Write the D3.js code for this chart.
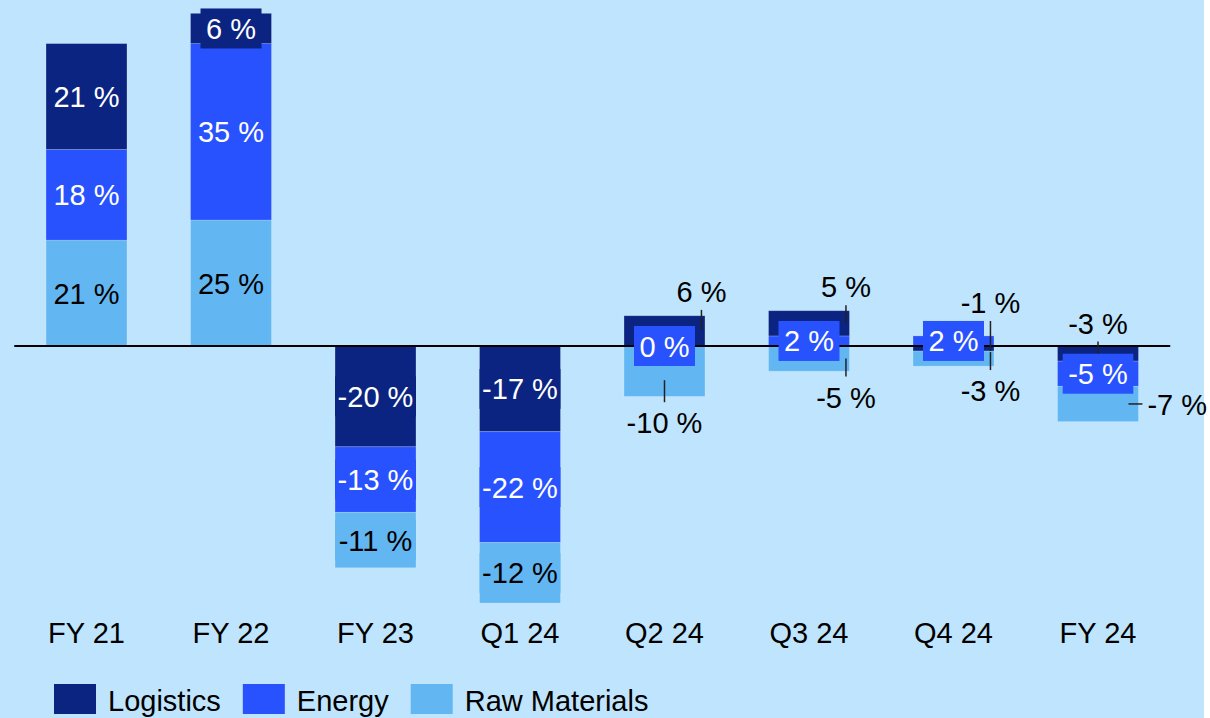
<!DOCTYPE html>
<html>
<head>
<meta charset="utf-8">
<script src="https://cdn.jsdelivr.net/npm/d3@7"></script>
<style>
  html, body { margin: 0; padding: 0; background: #ffffff; }
  svg { display: block; }
  text { font-family: "Liberation Sans", Arial, sans-serif; }
</style>
</head>
<body>
<svg id="chart" width="1210" height="718"></svg>
<script>
// ---- data ----
const categories = ["FY 21", "FY 22", "FY 23", "Q1 24", "Q2 24", "Q3 24", "Q4 24", "FY 24"];
const logistics    = [21, 6, -20, -17, 6, 5, -1, -3];
const energy       = [18, 35, -13, -22, 0, 2, 2, -5];
const rawMaterials = [21, 25, -11, -12, -10, -5, -3, -7];
const seriesNames  = ["Logistics", "Energy", "Raw Materials"];
const seriesValues = [logistics, energy, rawMaterials];

// ---- styles ----
const colors = { "Logistics": "#0c2481", "Energy": "#2952ff", "Raw Materials": "#62b7f3" };
const textColors = { "Logistics": "#ffffff", "Energy": "#ffffff", "Raw Materials": "#000000" };
const fontSize = 29;

// labels placed outside their segments (layout only)
const outsideLabels = {
  "Q2 24|Logistics":     { dir: "up",   at: "edge",   from: -1,  len: 20 },
  "Q2 24|Raw Materials": { dir: "down", at: "center", from: 9,   len: 22 },
  "Q3 24|Logistics":     { dir: "up",   at: "edge",   from: 0,   len: 18 },
  "Q3 24|Raw Materials": { dir: "down", at: "edge",   from: 0,   len: 18 },
  "Q4 24|Logistics":     { dir: "up",   at: "edge",   from: 2.5, len: 30 },
  "Q4 24|Raw Materials": { dir: "down", at: "edge",   from: -6.5, len: 18 },
  "FY 24|Logistics":     { dir: "up",   at: "center", from: 0,   len: 12 },
  "FY 24|Raw Materials": { dir: "right" }
};

const svg = d3.select("#chart");
svg.append("rect").attr("x", 0).attr("y", 0).attr("width", 1204).attr("height", 718).attr("fill", "#bfe4fd");

const zeroY = 346, pxPerUnit = 5.04;
const y = d3.scaleLinear().domain([-55, 66]).range([zeroY + 55 * pxPerUnit, zeroY - 66 * pxPerUnit]);
const x = d3.scaleBand().domain(categories).range([14.25, 1170.25]).paddingInner(0.44).paddingOuter(0.22);

// ---- diverging stack: positives Raw->Energy->Logistics upward, negatives Logistics->Energy->Raw downward ----
const posOrder = ["Raw Materials", "Energy", "Logistics"];
const negOrder = ["Logistics", "Energy", "Raw Materials"];
const segments = [];
categories.forEach((cat, i) => {
  let pos = 0, neg = 0;
  posOrder.forEach(name => {
    const v = seriesValues[seriesNames.indexOf(name)][i];
    if (v >= 0) { segments.push({ cat, name, v, y0: pos, y1: pos + v }); pos += v; }
  });
  negOrder.forEach(name => {
    const v = seriesValues[seriesNames.indexOf(name)][i];
    if (v < 0) { segments.push({ cat, name, v, y0: neg, y1: neg + v }); neg += v; }
  });
});

// bars
svg.append("g").selectAll("rect").data(segments).join("rect")
  .attr("x", d => x(d.cat))
  .attr("width", x.bandwidth())
  .attr("y", d => Math.min(y(d.y0), y(d.y1)))
  .attr("height", d => Math.abs(y(d.y0) - y(d.y1)))
  .attr("fill", d => colors[d.name])
  .attr("stroke", "rgba(255,255,255,0.22)")
  .attr("stroke-width", 0.8);

// zero line
svg.append("line")
  .attr("x1", x.range()[0]).attr("x2", x.range()[1])
  .attr("y1", y(0)).attr("y2", y(0))
  .attr("stroke", "#000").attr("stroke-width", 2);

const fmt = v => v + " %";

// measure helper
const measure = svg.append("text").attr("font-size", fontSize).attr("visibility", "hidden");
function textW(s) { measure.text(s); return measure.node().getComputedTextLength(); }

const labelG = svg.append("g");
const leaderG = svg.append("g");

segments.forEach(d => {
  const key = d.cat + "|" + d.name;
  const cx = x(d.cat) + x.bandwidth() / 2;
  const cy = (y(d.y0) + y(d.y1)) / 2;
  const label = fmt(d.v);
  const o = outsideLabels[key];
  if (!o) {
    const w = Math.min(textW(label) + 11, x.bandwidth());
    labelG.append("rect")
      .attr("x", cx - w / 2).attr("y", cy - 20)
      .attr("width", w).attr("height", 40)
      .attr("fill", colors[d.name]);
    labelG.append("text")
      .attr("x", cx).attr("y", cy + 10.5)
      .attr("text-anchor", "middle").attr("font-size", fontSize)
      .attr("fill", textColors[d.name]).text(label);
  } else if (o.dir === "right") {
    const xr = x(d.cat) + x.bandwidth();
    leaderG.append("line")
      .attr("x1", xr - 10).attr("x2", xr + 4)
      .attr("y1", cy).attr("y2", cy)
      .attr("stroke", "#222").attr("stroke-width", 1.5);
    leaderG.append("text")
      .attr("x", xr + 9).attr("y", cy + 11.5)
      .attr("font-size", fontSize).attr("fill", "#000").text(label);
  } else {
    const lx = o.at === "edge" ? x(d.cat) + x.bandwidth() - 3.5 : cx;
    const sgn = o.dir === "up" ? -1 : 1;
    const ys = cy + o.from;
    const ye = ys + sgn * o.len;
    leaderG.append("line")
      .attr("x1", lx).attr("x2", lx).attr("y1", ys).attr("y2", ye)
      .attr("stroke", "#222").attr("stroke-width", 1.5);
    leaderG.append("text")
      .attr("x", lx).attr("y", o.dir === "up" ? ye - 8 : ye + 31)
      .attr("text-anchor", "middle").attr("font-size", fontSize)
      .attr("fill", "#000").text(label);
  }
});

// category axis labels
const xAxis = d3.axisBottom(x).tickSize(0).tickPadding(0);
const axG = svg.append("g").attr("transform", "translate(0,622)").call(xAxis);
axG.select(".domain").remove();
axG.selectAll("text")
  .attr("font-size", fontSize).attr("fill", "#000")
  .attr("font-family", '"Liberation Sans", Arial, sans-serif')
  .attr("dy", "0").attr("y", 21);

// legend
let lx = 54;
const legG = svg.append("g");
seriesNames.forEach(name => {
  legG.append("rect").attr("x", lx).attr("y", 684).attr("width", 42).attr("height", 30).attr("fill", colors[name]);
  legG.append("text").attr("x", lx + 54).attr("y", 711).attr("font-size", fontSize).attr("fill", "#000").text(name);
  lx += 54 + textW(name) + 22;
});
measure.remove();
</script>
</body>
</html>
